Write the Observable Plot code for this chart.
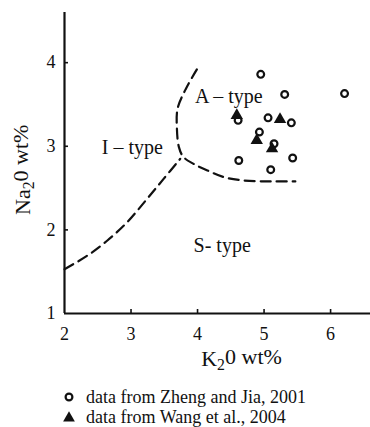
<!DOCTYPE html>
<html>
<head>
<meta charset="utf-8">
<script src="https://cdn.jsdelivr.net/npm/d3@7"></script>
<script src="https://cdn.jsdelivr.net/npm/@observablehq/plot@0.6"></script>
<style>
  html, body { margin: 0; padding: 0; background: #fff; }
  body { width: 370px; height: 427px; overflow: hidden; font-family: "Liberation Serif", "Times New Roman", serif; }
  #chart svg, #chart svg text, #chart svg g { font-family: "Liberation Serif", "Times New Roman", serif !important; }
  #wrap { position: relative; width: 370px; height: 427px; }
  #legend { position: absolute; left: 0; top: 0; width: 370px; }
  .row { position: absolute; left: 0; height: 20px; font-size: 18px; color: #111; }
  .row svg { position: absolute; left: 62px; top: 3px; }
  .row span { position: absolute; left: 86px; top: 0; white-space: nowrap; line-height: 20px; }
</style>
</head>
<body>
<div id="wrap">
  <div id="chart"></div>
  <div id="legend"></div>
</div>
<script>
// Samples from Zheng and Jia (2001): K2O and Na2O, wt%
const zhengK  = [4.95, 5.31, 6.21, 4.61, 5.06, 5.41, 4.93, 5.15, 4.62, 5.43, 5.10];
const zhengNa = [3.86, 3.62, 3.63, 3.31, 3.34, 3.28, 3.17, 3.03, 2.83, 2.86, 2.72];

// Samples from Wang et al. (2004)
const wangK  = [4.59, 5.24, 4.89, 5.12];
const wangNa = [3.37, 3.32, 3.07, 2.97];

// I-type / S-type boundary
const isLineK  = [2.00, 2.34, 2.64, 2.94, 3.24, 3.49, 3.74];
const isLineNa = [1.53, 1.69, 1.87, 2.09, 2.37, 2.61, 2.85];

// A-type field boundary
const aLineK  = [3.99, 3.82, 3.70, 3.69, 3.72, 3.79, 3.94, 4.15, 4.40, 4.70, 5.10, 5.47];
const aLineNa = [3.92, 3.68, 3.45, 3.21, 2.99, 2.87, 2.79, 2.71, 2.63, 2.59, 2.58, 2.58];

// Field names
const fieldNames = ["A – type", "I – type", "S- type"];
const fieldK     = [4.47, 3.02, 4.37];
const fieldNa    = [3.60, 2.99, 1.81];

// Axes
const xTicks = [2, 3, 4, 5, 6];
const yTicks = [1, 2, 3, 4];
const xDomain = [2, 6.6];
const yDomain = [1, 4.6];
const xTitle = "K₂0 wt%";
const yTitle = "Na₂0 wt%";

const legendItems = ["data from Zheng and Jia, 2001", "data from Wang et al., 2004"];

const zheng = zhengK.map((k, i) => ({k, na: zhengNa[i]}));
const wang = wangK.map((k, i) => ({k, na: wangNa[i]}));
const isLine = isLineK.map((k, i) => ({k, na: isLineNa[i]}));
const aLine = aLineK.map((k, i) => ({k, na: aLineNa[i]}));
const fields = fieldNames.map((name, i) => ({name, k: fieldK[i], na: fieldNa[i]}));

const W = 370, H = 380;
const mL = 64, mR = 0, mT = 12, mB = 67;
const innerW = W - mL - mR, innerH = H - mT - mB;
const serif = "'Liberation Serif', 'Times New Roman', serif";

const chart = Plot.plot({
  width: W,
  height: H,
  marginLeft: mL,
  marginRight: mR,
  marginTop: mT,
  marginBottom: mB,
  style: {fontFamily: serif, color: "#111", background: "#fff", overflow: "visible"},
  x: {domain: xDomain},
  y: {domain: yDomain},
  marks: [
    Plot.axisX({ticks: xTicks, tickSize: 0, tickPadding: 14, fontSize: 18, label: null, tickFormat: d3.format("d")}),
    Plot.axisY({ticks: yTicks, tickSize: 0, tickPadding: 9, fontSize: 18, label: null, tickFormat: d3.format("d")}),
    // inward tick marks
    Plot.ruleX(xTicks.slice(1), {x: d => d, insetTop: innerH - 4, stroke: "#111", strokeWidth: 1.6}),
    Plot.ruleY(yTicks.slice(1), {y: d => d, insetRight: innerW - 4, stroke: "#111", strokeWidth: 1.6}),
    // axis lines
    Plot.ruleX([xDomain[0]], {stroke: "#111", strokeWidth: 2.2}),
    Plot.ruleY([yDomain[0]], {stroke: "#111", strokeWidth: 2.2}),
    // field boundaries
    Plot.line(isLine, {x: "k", y: "na", curve: "catmull-rom", stroke: "#111", strokeWidth: 2.2, strokeDasharray: "10,6"}),
    Plot.line(aLine, {x: "k", y: "na", curve: "catmull-rom", stroke: "#111", strokeWidth: 2.2, strokeDasharray: "10,6"}),
    // field names
    Plot.text(fields, {x: "k", y: "na", text: "name", fontSize: 20, fill: "#111"}),
    // samples
    Plot.dot(zheng, {x: "k", y: "na", r: 3.4, stroke: "#111", strokeWidth: 2.2, fill: "none"}),
    Plot.dot(wang, {x: "k", y: "na", r: 4.6, symbol: "triangle", fill: "#111", stroke: "none"}),
    // axis titles
    Plot.text([xTitle], {frameAnchor: "bottom", dx: 24, dy: 52, fontSize: 22, fill: "#111"}),
    Plot.text([yTitle], {frameAnchor: "left", dx: -42, dy: 52, rotate: -90, fontSize: 22, fill: "#111"})
  ]
});

// render the "2" in the oxide formulas as a subscript
d3.select(chart).selectAll("text").each(function () {
  const t = this.textContent;
  if (t === xTitle || t === yTitle) {
    const [head, tail] = t.split("₂");
    const el = d3.select(this).text(null);
    el.append("tspan").text(head);
    el.append("tspan").attr("dy", "0.3em").attr("font-size", "0.72em").text("2");
    el.append("tspan").attr("dy", "-0.3em").text(tail);
  }
});

document.getElementById("chart").appendChild(chart);

// legend below the plot
const legend = d3.select("#legend");
const rowTops = [387, 407];
legendItems.forEach((label, i) => {
  const row = legend.append("div").attr("class", "row").style("top", rowTops[i] + "px");
  const svg = row.append("svg").attr("width", 14).attr("height", 14);
  if (i === 0) {
    svg.append("circle").attr("cx", 7).attr("cy", 7).attr("r", 3.4)
      .attr("fill", "none").attr("stroke", "#111").attr("stroke-width", 2.2);
  } else {
    svg.append("path").attr("transform", "translate(7,8)")
      .attr("d", d3.symbol(d3.symbolTriangle, 60)())
      .attr("fill", "#111");
  }
  row.append("span").text(label);
});
</script>
</body>
</html>
